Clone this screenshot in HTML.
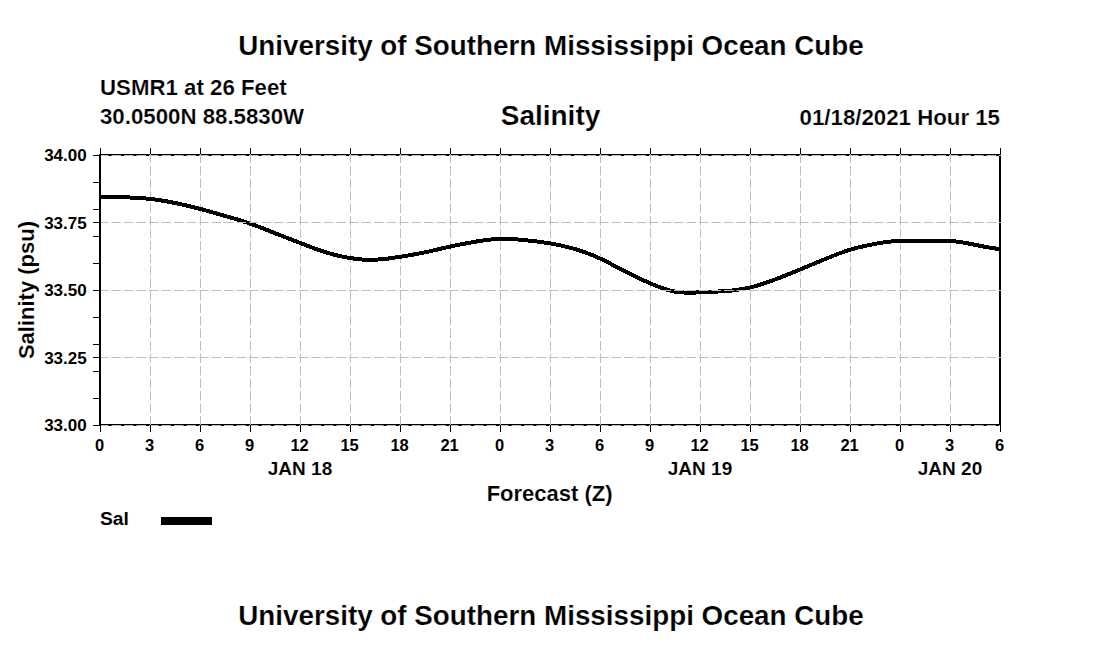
<!DOCTYPE html>
<html><head><meta charset="utf-8"><style>
html,body{margin:0;padding:0;background:#fff;}
svg{display:block;}
</style></head><body>
<svg width="1100" height="650" viewBox="0 0 1100 650">
<rect width="1100" height="650" fill="#fff"/>
<rect x="999" y="154" width="2" height="272" fill="#000"/>
<rect x="99" y="154" width="902" height="2" fill="#000"/>
<rect x="99" y="424" width="902" height="2" fill="#000"/>
<g stroke="#bebebe" stroke-width="1" stroke-dasharray="9.5 3"><line x1="150.5" y1="153.5" x2="150.5" y2="425" /><line x1="200.5" y1="153.5" x2="200.5" y2="425" /><line x1="250.5" y1="153.5" x2="250.5" y2="425" /><line x1="300.5" y1="153.5" x2="300.5" y2="425" /><line x1="350.5" y1="153.5" x2="350.5" y2="425" /><line x1="400.5" y1="153.5" x2="400.5" y2="425" /><line x1="450.5" y1="153.5" x2="450.5" y2="425" /><line x1="500.5" y1="153.5" x2="500.5" y2="425" /><line x1="550.5" y1="153.5" x2="550.5" y2="425" /><line x1="600.5" y1="153.5" x2="600.5" y2="425" /><line x1="650.5" y1="153.5" x2="650.5" y2="425" /><line x1="700.5" y1="153.5" x2="700.5" y2="425" /><line x1="750.5" y1="153.5" x2="750.5" y2="425" /><line x1="800.5" y1="153.5" x2="800.5" y2="425" /><line x1="850.5" y1="153.5" x2="850.5" y2="425" /><line x1="900.5" y1="153.5" x2="900.5" y2="425" /><line x1="950.5" y1="153.5" x2="950.5" y2="425" /></g>
<polyline points="100,196.6 102,196.7 104,196.7 106,196.8 108,196.9 110,196.9 112,197.0 114,197.0 116,197.1 118,197.1 120,197.2 122,197.2 124,197.3 126,197.3 128,197.4 130,197.5 132,197.6 134,197.7 136,197.8 138,197.9 140,198.0 142,198.2 144,198.3 146,198.5 148,198.7 150,198.9 152,199.1 154,199.4 156,199.7 158,199.9 160,200.3 162,200.6 164,200.9 166,201.3 168,201.6 170,202.0 172,202.4 174,202.8 176,203.2 178,203.6 180,204.1 182,204.5 184,205.0 186,205.4 188,205.9 190,206.4 192,206.9 194,207.4 196,207.9 198,208.4 200,208.9 202,209.4 204,210.0 206,210.5 208,211.1 210,211.6 212,212.2 214,212.7 216,213.3 218,213.9 220,214.5 222,215.0 224,215.6 226,216.2 228,216.8 230,217.3 232,217.9 234,218.5 236,219.1 238,219.7 240,220.3 242,221.0 244,221.6 246,222.2 248,222.9 250,223.6 252,224.3 254,225.0 256,225.8 258,226.5 260,227.3 262,228.1 264,228.8 266,229.6 268,230.4 270,231.2 272,232.0 274,232.8 276,233.6 278,234.4 280,235.2 282,235.9 284,236.7 286,237.5 288,238.3 290,239.0 292,239.8 294,240.6 296,241.4 298,242.1 300,242.9 302,243.7 304,244.4 306,245.2 308,246.0 310,246.7 312,247.5 314,248.2 316,249.0 318,249.7 320,250.4 322,251.0 324,251.7 326,252.3 328,252.9 330,253.5 332,254.1 334,254.6 336,255.1 338,255.6 340,256.0 342,256.5 344,256.9 346,257.3 348,257.7 350,258.0 352,258.3 354,258.6 356,258.9 358,259.1 360,259.3 362,259.5 364,259.6 366,259.7 368,259.8 370,259.8 372,259.8 374,259.8 376,259.7 378,259.5 380,259.4 382,259.2 384,259.0 386,258.8 388,258.6 390,258.3 392,258.0 394,257.7 396,257.4 398,257.1 400,256.8 402,256.5 404,256.2 406,255.8 408,255.5 410,255.2 412,254.8 414,254.4 416,254.1 418,253.7 420,253.3 422,252.9 424,252.5 426,252.1 428,251.7 430,251.2 432,250.8 434,250.3 436,249.8 438,249.4 440,248.9 442,248.4 444,248.0 446,247.5 448,247.0 450,246.6 452,246.2 454,245.7 456,245.3 458,244.9 460,244.5 462,244.1 464,243.8 466,243.4 468,243.0 470,242.7 472,242.3 474,242.0 476,241.6 478,241.3 480,241.0 482,240.7 484,240.4 486,240.1 488,239.9 490,239.6 492,239.4 494,239.2 496,239.1 498,239.0 500,238.9 502,238.9 504,238.8 506,238.9 508,238.9 510,239.0 512,239.1 514,239.2 516,239.4 518,239.5 520,239.7 522,239.9 524,240.1 526,240.3 528,240.5 530,240.7 532,240.9 534,241.2 536,241.4 538,241.7 540,241.9 542,242.2 544,242.5 546,242.8 548,243.1 550,243.4 552,243.7 554,244.1 556,244.5 558,244.9 560,245.3 562,245.7 564,246.2 566,246.7 568,247.2 570,247.7 572,248.2 574,248.8 576,249.4 578,250.0 580,250.6 582,251.3 584,252.0 586,252.7 588,253.5 590,254.2 592,255.0 594,255.8 596,256.7 598,257.6 600,258.5 602,259.4 604,260.4 606,261.4 608,262.4 610,263.5 612,264.5 614,265.6 616,266.7 618,267.7 620,268.8 622,269.8 624,270.9 626,271.9 628,272.9 630,273.9 632,274.9 634,275.9 636,276.8 638,277.8 640,278.7 642,279.6 644,280.6 646,281.4 648,282.3 650,283.2 652,284.1 654,284.9 656,285.7 658,286.5 660,287.3 662,288.0 664,288.7 666,289.4 668,290.0 670,290.5 672,291.0 674,291.4 676,291.8 678,292.0 680,292.3 682,292.4 684,292.5 686,292.6 688,292.6 690,292.6 692,292.6 694,292.5 696,292.5 698,292.4 700,292.3 702,292.2 704,292.1 706,292.1 708,292.0 710,291.9 712,291.8 714,291.7 716,291.6 718,291.5 720,291.4 722,291.3 724,291.2 726,291.0 728,290.9 730,290.7 732,290.5 734,290.2 736,290.0 738,289.7 740,289.4 742,289.1 744,288.8 746,288.4 748,288.0 750,287.5 752,287.0 754,286.5 756,285.9 758,285.4 760,284.7 762,284.1 764,283.4 766,282.8 768,282.1 770,281.4 772,280.6 774,279.9 776,279.1 778,278.4 780,277.6 782,276.8 784,276.0 786,275.2 788,274.4 790,273.6 792,272.8 794,272.0 796,271.2 798,270.3 800,269.5 802,268.7 804,267.8 806,267.0 808,266.2 810,265.3 812,264.5 814,263.7 816,262.8 818,262.0 820,261.2 822,260.3 824,259.5 826,258.7 828,257.9 830,257.1 832,256.3 834,255.5 836,254.7 838,253.9 840,253.2 842,252.5 844,251.8 846,251.1 848,250.4 850,249.8 852,249.2 854,248.6 856,248.1 858,247.5 860,247.0 862,246.6 864,246.1 866,245.7 868,245.2 870,244.8 872,244.5 874,244.1 876,243.7 878,243.4 880,243.0 882,242.7 884,242.4 886,242.1 888,241.9 890,241.6 892,241.4 894,241.2 896,241.1 898,240.9 900,240.8 902,240.7 904,240.7 906,240.6 908,240.6 910,240.6 912,240.6 914,240.6 916,240.6 918,240.7 920,240.7 922,240.7 924,240.7 926,240.7 928,240.7 930,240.7 932,240.6 934,240.6 936,240.6 938,240.6 940,240.6 942,240.6 944,240.6 946,240.7 948,240.8 950,240.9 952,241.1 954,241.3 956,241.5 958,241.8 960,242.1 962,242.4 964,242.7 966,243.1 968,243.4 970,243.8 972,244.2 974,244.6 976,245.0 978,245.4 980,245.8 982,246.2 984,246.6 986,247.0 988,247.3 990,247.7 992,248.0 994,248.3 996,248.6 998,248.9 1000,249.1" fill="none" stroke="#000" stroke-width="4" stroke-linejoin="round" shape-rendering="crispEdges"/>
<g stroke="#bebebe" stroke-width="1" stroke-dasharray="9.5 3"><line x1="99" y1="155.5" x2="1001" y2="155.5" /><line x1="99" y1="222.5" x2="1001" y2="222.5" /><line x1="99" y1="290.5" x2="1001" y2="290.5" /><line x1="99" y1="357.5" x2="1001" y2="357.5" /><line x1="99" y1="425.5" x2="1001" y2="425.5" /></g>
<rect x="99" y="154" width="2" height="272" fill="#000"/>
<g fill="#000"><rect x="100" y="148" width="1" height="6"/><rect x="100" y="425" width="1" height="7"/><rect x="150" y="148" width="1" height="6"/><rect x="150" y="425" width="1" height="7"/><rect x="200" y="148" width="1" height="6"/><rect x="200" y="425" width="1" height="7"/><rect x="250" y="148" width="1" height="6"/><rect x="250" y="425" width="1" height="7"/><rect x="300" y="148" width="1" height="6"/><rect x="300" y="425" width="1" height="7"/><rect x="350" y="148" width="1" height="6"/><rect x="350" y="425" width="1" height="7"/><rect x="400" y="148" width="1" height="6"/><rect x="400" y="425" width="1" height="7"/><rect x="450" y="148" width="1" height="6"/><rect x="450" y="425" width="1" height="7"/><rect x="500" y="148" width="1" height="6"/><rect x="500" y="425" width="1" height="7"/><rect x="550" y="148" width="1" height="6"/><rect x="550" y="425" width="1" height="7"/><rect x="600" y="148" width="1" height="6"/><rect x="600" y="425" width="1" height="7"/><rect x="650" y="148" width="1" height="6"/><rect x="650" y="425" width="1" height="7"/><rect x="700" y="148" width="1" height="6"/><rect x="700" y="425" width="1" height="7"/><rect x="750" y="148" width="1" height="6"/><rect x="750" y="425" width="1" height="7"/><rect x="800" y="148" width="1" height="6"/><rect x="800" y="425" width="1" height="7"/><rect x="850" y="148" width="1" height="6"/><rect x="850" y="425" width="1" height="7"/><rect x="900" y="148" width="1" height="6"/><rect x="900" y="425" width="1" height="7"/><rect x="950" y="148" width="1" height="6"/><rect x="950" y="425" width="1" height="7"/><rect x="1000" y="148" width="1" height="6"/><rect x="1000" y="425" width="1" height="7"/><rect x="93" y="155" width="6" height="1"/><rect x="93" y="182" width="6" height="1"/><rect x="93" y="209" width="6" height="1"/><rect x="93" y="222" width="6" height="1"/><rect x="93" y="236" width="6" height="1"/><rect x="93" y="263" width="6" height="1"/><rect x="93" y="290" width="6" height="1"/><rect x="93" y="317" width="6" height="1"/><rect x="93" y="344" width="6" height="1"/><rect x="93" y="357" width="6" height="1"/><rect x="93" y="371" width="6" height="1"/><rect x="93" y="398" width="6" height="1"/><rect x="93" y="425" width="6" height="1"/></g>
<g font-family='"Liberation Sans", sans-serif' font-weight="bold" fill="#000"><text x="551" y="55" font-size="27.8" text-anchor="middle" stroke="#fff" stroke-width="0.2" >University of Southern Mississippi Ocean Cube</text><text x="100" y="95" font-size="22.25" text-anchor="start" stroke="#fff" stroke-width="0.2" >USMR1 at 26 Feet</text><text x="100" y="124" font-size="22.25" text-anchor="start" stroke="#fff" stroke-width="0.2" >30.0500N 88.5830W</text><text x="550.5" y="125" font-size="28" text-anchor="middle" stroke="#fff" stroke-width="0.2" >Salinity</text><text x="1000" y="125" font-size="22.25" text-anchor="end" stroke="#fff" stroke-width="0.2" >01/18/2021 Hour 15</text><text x="86.7" y="161" font-size="17" text-anchor="end" >34.00</text><text x="86.7" y="228.5" font-size="17" text-anchor="end" >33.75</text><text x="86.7" y="296" font-size="17" text-anchor="end" >33.50</text><text x="86.7" y="363.5" font-size="17" text-anchor="end" >33.25</text><text x="86.7" y="431" font-size="17" text-anchor="end" >33.00</text><text x="99.6" y="451" font-size="16.5" text-anchor="middle" >0</text><text x="149.6" y="451" font-size="16.5" text-anchor="middle" >3</text><text x="199.6" y="451" font-size="16.5" text-anchor="middle" >6</text><text x="249.6" y="451" font-size="16.5" text-anchor="middle" >9</text><text x="299.6" y="451" font-size="16.5" text-anchor="middle" >12</text><text x="349.6" y="451" font-size="16.5" text-anchor="middle" >15</text><text x="399.6" y="451" font-size="16.5" text-anchor="middle" >18</text><text x="449.6" y="451" font-size="16.5" text-anchor="middle" >21</text><text x="499.6" y="451" font-size="16.5" text-anchor="middle" >0</text><text x="549.6" y="451" font-size="16.5" text-anchor="middle" >3</text><text x="599.6" y="451" font-size="16.5" text-anchor="middle" >6</text><text x="649.6" y="451" font-size="16.5" text-anchor="middle" >9</text><text x="699.6" y="451" font-size="16.5" text-anchor="middle" >12</text><text x="749.6" y="451" font-size="16.5" text-anchor="middle" >15</text><text x="799.6" y="451" font-size="16.5" text-anchor="middle" >18</text><text x="849.6" y="451" font-size="16.5" text-anchor="middle" >21</text><text x="899.6" y="451" font-size="16.5" text-anchor="middle" >0</text><text x="949.6" y="451" font-size="16.5" text-anchor="middle" >3</text><text x="999.6" y="451" font-size="16.5" text-anchor="middle" >6</text><text x="300" y="475" font-size="19" text-anchor="middle" stroke="#fff" stroke-width="0.1" >JAN 18</text><text x="700" y="475" font-size="19" text-anchor="middle" stroke="#fff" stroke-width="0.1" >JAN 19</text><text x="950" y="475" font-size="19" text-anchor="middle" stroke="#fff" stroke-width="0.1" >JAN 20</text><text x="549.6" y="500.5" font-size="22" text-anchor="middle" stroke="#fff" stroke-width="0.15" >Forecast (Z)</text><text x="0" y="0" font-size="22" text-anchor="middle" stroke="#fff" stroke-width="0.15" transform="translate(34.1,290) rotate(-90)">Salinity (psu)</text><text x="100" y="525" font-size="19.2" text-anchor="start" >Sal</text><text x="551" y="625" font-size="27.8" text-anchor="middle" stroke="#fff" stroke-width="0.2" >University of Southern Mississippi Ocean Cube</text></g>
<rect x="161" y="517" width="51" height="8" fill="#000"/>
</svg>
</body></html>
